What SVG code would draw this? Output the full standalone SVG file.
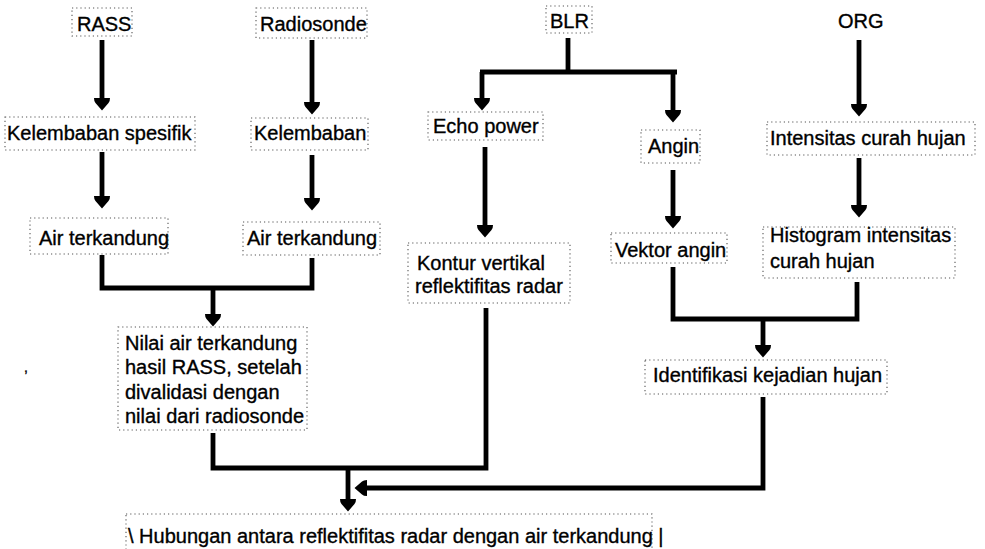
<svg xmlns="http://www.w3.org/2000/svg" width="985" height="549" viewBox="0 0 985 549">
<style>
text{font-family:"Liberation Sans",Arial,sans-serif;font-size:20px;fill:#000;stroke:#000;stroke-width:0.35}
.box{fill:none;stroke:#555;stroke-width:1.1;stroke-dasharray:1.2 3}
.ln{fill:none;stroke:#000;stroke-width:4.8;stroke-linejoin:miter}
.ar{marker-end:url(#ah)}
</style>
<defs>
<marker id="ah" markerUnits="userSpaceOnUse" viewBox="0 -9 15 18" markerWidth="15" markerHeight="18" refX="4" refY="0" orient="auto">
<path d="M0,-8 Q3.5,-8 5,-6.5 L12.5,0 L5,6.5 Q3.5,8 0,8 Z" fill="#000"/>
</marker>
</defs>
<rect width="985" height="549" fill="#fff"/>
<g id="n-rass"><rect class="box" x="72" y="8" width="60" height="28"/><text x="77" y="31">RASS</text></g>
<g id="n-radiosonde"><rect class="box" x="256" y="8" width="111" height="30"/><text x="260" y="31">Radiosonde</text></g>
<g id="n-blr"><rect class="box" x="546" y="6" width="46" height="27"/><text x="550" y="28">BLR</text></g>
<g id="n-org"><text x="838" y="28">ORG</text></g>
<g id="n-kelspes"><rect class="box" x="5" y="117" width="190" height="33"/><text x="7" y="140">Kelembaban spesifik</text></g>
<g id="n-kel"><rect class="box" x="251" y="118" width="117" height="32"/><text x="254" y="140">Kelembaban</text></g>
<g id="n-echo"><rect class="box" x="428" y="112" width="115" height="28"/><text x="433" y="133">Echo power</text></g>
<g id="n-angin"><rect class="box" x="641" y="130" width="59" height="33"/><text x="648" y="153">Angin</text></g>
<g id="n-intens"><rect class="box" x="767" y="122" width="208" height="33"/><text x="770" y="145">Intensitas curah hujan</text></g>
<g id="n-air1"><rect class="box" x="30" y="218" width="138" height="36"/><text x="39" y="245">Air terkandung</text></g>
<g id="n-air2"><rect class="box" x="243" y="222" width="137" height="33"/><text x="247" y="245">Air terkandung</text></g>
<g id="n-kontur"><rect class="box" x="408" y="243" width="162" height="60"/><text x="417" y="270">Kontur vertikal</text><text x="415" y="293">reflektifitas radar</text></g>
<g id="n-vektor"><rect class="box" x="611" y="233" width="116" height="30"/><text x="615" y="257">Vektor angin</text></g>
<g id="n-hist"><rect class="box" x="763" y="227" width="192" height="51"/><text x="770" y="242">Histogram intensitas</text><text x="770" y="268">curah hujan</text></g>
<g id="n-nilai"><rect class="box" x="118" y="327" width="189" height="103"/><text x="125" y="350">Nilai air terkandung</text><text x="125" y="374">hasil RASS, setelah</text><text x="125" y="399">divalidasi dengan</text><text x="125" y="423">nilai dari radiosonde</text></g>
<g id="n-ident"><rect class="box" x="645" y="360" width="242" height="34"/><text x="653" y="382">Identifikasi kejadian hujan</text></g>
<g id="n-hub"><rect class="box" x="126" y="514" width="526" height="40"/><text x="128" y="543">\ Hubungan antara reflektifitas radar dengan air terkandung |</text></g>
<g id="speck"><text x="24" y="372" style="font-size:14px">,</text></g>
<g id="connectors">
<path class="ln ar" d="M102,40 V102"/>
<path class="ln ar" d="M312,40 V106"/>
<path class="ln ar" d="M102,152 V200"/>
<path class="ln ar" d="M312,155 V202"/>
<path class="ln" d="M102,255 V288 H312 V258"/>
<path class="ln ar" d="M213,290 V318"/>
<path class="ln" d="M213,433 V468 H486 V308"/>
<path class="ln ar" d="M348,468 V503"/>
<path class="ln" d="M568,38 V72"/>
<path class="ln" d="M480,72 H677"/>
<path class="ln ar" d="M482,72 V102"/>
<path class="ln ar" d="M673,72 V114"/>
<path class="ln ar" d="M485,147 V229"/>
<path class="ln ar" d="M673,170 V220"/>
<path class="ln ar" d="M859,40 V108"/>
<path class="ln ar" d="M859,158 V209"/>
<path class="ln" d="M673,267 V319 H857 V282"/>
<path class="ln ar" d="M763,319 V349"/>
<path class="ln ar" d="M763,397 V488 H363"/>
</g>
</svg>
